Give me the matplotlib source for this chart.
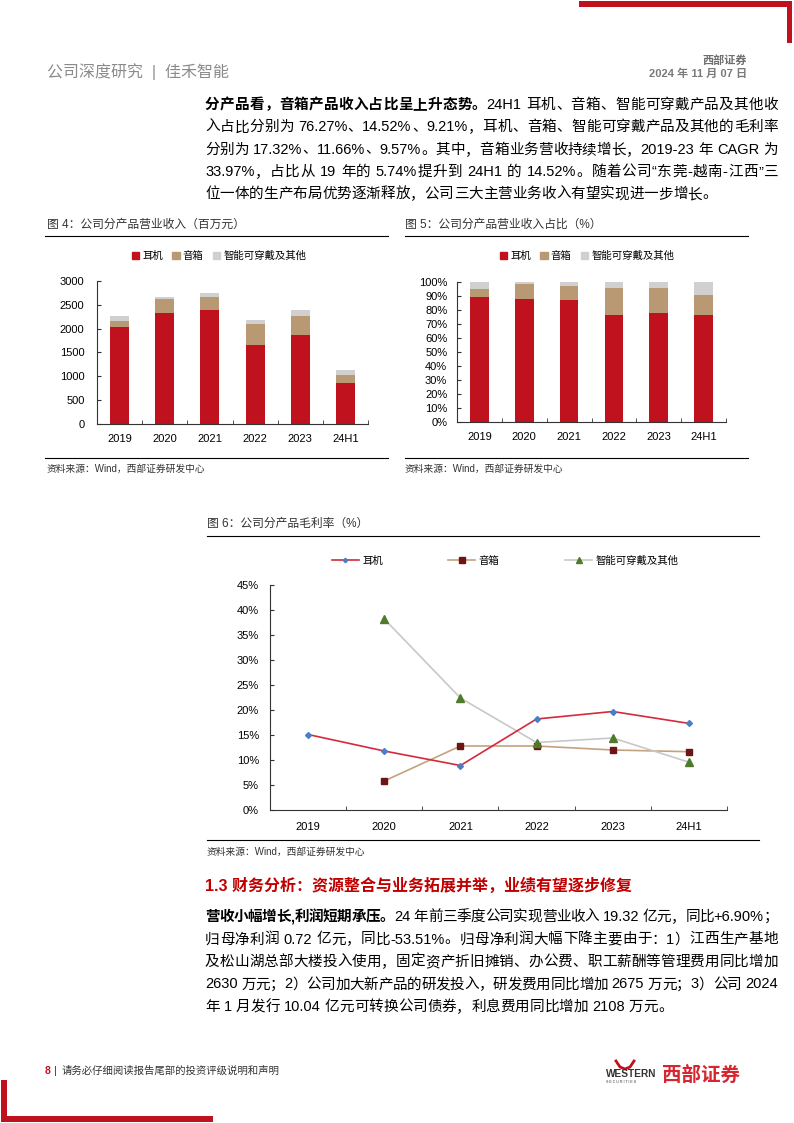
import re
import numpy as np
import matplotlib
matplotlib.use('Agg')
import matplotlib.pyplot as plt
from matplotlib.patches import Patch, Rectangle
from matplotlib.lines import Line2D

W, H = 794, 1123
FAM = ['Liberation Sans', 'Noto Sans CJK SC', 'DejaVu Sans']
plt.rcParams['font.family'] = FAM

RED = '#C0111F'
TAN = '#B99874'
GRAY = '#D0D0D0'

# data
years = ['2019', '2020', '2021', '2022', '2023', '24H1']
series = ['耳机', '音箱', '智能可穿戴及其他']

# 图4 营业收入（百万元）
rev_ear = [2032, 2332, 2394, 1663, 1858, 860]
rev_spk = [126, 292, 279, 425, 418, 165]
rev_oth = [118, 49, 83, 97, 118, 105]

# 图5 收入占比（%）
shr_ear = [89.5, 87.6, 86.9, 76.4, 77.8, 76.27]
shr_spk = [5.74, 10.7, 10.5, 19.3, 17.7, 14.52]
shr_oth = [4.76, 1.7, 2.6, 4.3, 4.5, 9.21]

# 图6 毛利率（%）
gm_ear = [15.1, 11.8, 8.9, 18.2, 19.7, 17.32]
gm_spk = [5.8, 12.8, 12.8, 12.0, 11.66]      # 2020 起
gm_oth = [38.2, 22.4, 13.5, 14.4, 9.57]      # 2020 起

para1 = [
    [('分产品看，音箱产品收入占比呈上升态势。', True), ('24H1 耳机、音箱、智能可穿戴产品及其他收', False)],
    [('入占比分别为 76.27%、14.52%、9.21%，耳机、音箱、智能可穿戴产品及其他的毛利率', False)],
    [('分别为 17.32%、11.66%、9.57%。其中，音箱业务营收持续增长，2019-23 年 CAGR 为', False)],
    [('33.97%，占比从 19 年的 5.74%提升到 24H1 的 14.52%。随着公司“东莞-越南-江西”三', False)],
    [('位一体的生产布局优势逐渐释放，公司三大主营业务收入有望实现进一步增长。', False)],
]
para2 = [
    [('营收小幅增长,利润短期承压。', True), ('24 年前三季度公司实现营业收入 19.32 亿元，同比+6.90%；', False)],
    [('归母净利润 0.72 亿元，同比-53.51%。归母净利润大幅下降主要由于：1）江西生产基地', False)],
    [('及松山湖总部大楼投入使用，固定资产折旧摊销、办公费、职工薪酬等管理费用同比增加', False)],
    [('2630 万元；2）公司加大新产品的研发投入，研发费用同比增加 2675 万元；3）公司 2024', False)],
    [('年 1 月发行 10.04 亿元可转换公司债券，利息费用同比增加 2108 万元。', False)],
]

fig = plt.figure(figsize=(W / 100, H / 100), dpi=100)
renderer = fig.canvas.get_renderer()


def fx(x):
    return x / W


def fy(y):
    return 1 - y / H


def rect(x0, y0, x1, y1):
    return [fx(x0), fy(y1), (x1 - x0) / W, (y1 - y0) / H]


def hline(x0, x1, y, color='black', lw=0.8):
    fig.add_artist(Line2D([fx(x0), fx(x1)], [fy(y), fy(y)], color=color, lw=lw))


def block(x0, y0, x1, y1, color=RED):
    fig.add_artist(Rectangle((fx(x0), fy(y1)), (x1 - x0) / W, (y1 - y0) / H,
                             color=color, lw=0))


def text(x, y, s, size, **kw):
    kw.setdefault('va', 'center')
    return fig.text(fx(x), fy(y), s, fontsize=size, **kw)


def draw_line(segs, x0, x1, y, size, justify=True):
    items = []
    for s, bold in segs:
        for tok in re.findall(r'[A-Za-z0-9.%+\-]+|.', s):
            t = fig.text(0, 0, tok, fontsize=size, va='center', ha='left',
                         fontweight='bold' if bold else 'normal', color='black')
            items.append((t, t.get_window_extent(renderer).width))
    total = sum(w for _, w in items)
    gap = (x1 - x0 - total) / (len(items) - 1) if justify else 0
    x = x0
    for t, w in items:
        t.set_position((fx(x), fy(y)))
        x += w + gap


# page decoration
block(579, 1, 792, 7)
block(787, 1, 792, 43)
block(1, 1080, 7, 1122)
block(1, 1116, 213, 1122)

text(47, 72, '公司深度研究  |  佳禾智能', 11.5, color='#8a8a8a')
text(747, 61, '西部证券', 8, color='#6e6e6e', ha='right', fontweight='bold')
text(747, 74, '2024 年 11 月 07 日', 8, color='#7a7a7a', ha='right', fontweight='bold')

# body text
for i, line in enumerate(para1):
    draw_line(line, 205, 778, 105 + i * 22.3, 10.5, justify=i < len(para1) - 1)

text(205, 886, '1.3 财务分析：资源整合与业务拓展并举，业绩有望逐步修复', 11.5,
     color='#C00000', fontweight='bold')
for i, line in enumerate(para2):
    draw_line(line, 205, 778, 917 + i * 22.5, 10.5, justify=i < len(para2) - 1)

# footer
text(45, 1071, '8', 7.5, color=RED, fontweight='bold')
text(54, 1071, '|', 8, color='#1F3A7A')
text(62, 1071, '请务必仔细阅读报告尾部的投资评级说明和声明', 7.5, color='#333333')
text(606, 1074, 'WESTERN', 7.3, color='#333333', fontweight='bold')
text(606, 1082, 'S E C U R I T I E S', 2.6, color='#333333')
fig.add_artist(Line2D([fx(v) for v in (616, 620, 625, 630, 634)],
                      [fy(v) for v in (1061, 1067, 1069, 1067, 1061)], color=RED, lw=2))
text(662, 1075, '西部证券', 14, color='#D7262F', fontweight='bold')


def frame(ax, ylab_pad):
    for s in ['top', 'right']:
        ax.spines[s].set_visible(False)
    for s in ['left', 'bottom']:
        ax.spines[s].set_color('#333333')
        ax.spines[s].set_linewidth(0.8)
    ax.set_xlim(-0.5, 5.5)
    ax.set_xticks(range(len(years)))
    ax.set_xticklabels(years)
    ax.set_xticks(np.arange(0.5, 5.6, 1), minor=True)
    ax.tick_params(axis='x', which='major', length=0, labelsize=8, pad=7)
    ax.tick_params(axis='x', which='minor', length=3, direction='in', color='#333333')
    ax.tick_params(axis='y', length=3, direction='in', labelsize=8, pad=ylab_pad,
                   color='#333333')


x = np.arange(len(years))
bw = 0.42

# 图4
hline(45, 388, 236)
hline(45, 388, 458)
text(47, 225, '图 4：公司分产品营业收入（百万元）', 8.5, color='#333333')
text(47, 469, '资料来源：Wind，西部证券研发中心', 7, color='#333333')
ax1 = fig.add_axes(rect(97, 281, 368, 424))
ax1.bar(x, rev_ear, bw, color=RED)
ax1.bar(x, rev_spk, bw, bottom=rev_ear, color=TAN)
ax1.bar(x, rev_oth, bw, bottom=np.add(rev_ear, rev_spk), color=GRAY)
ax1.set_ylim(0, 3000)
ax1.set_yticks(range(0, 3001, 500))
frame(ax1, 9)
ax1.legend(handles=[Patch(color=c) for c in (RED, TAN, GRAY)], labels=series,
           loc='center', bbox_to_anchor=(fx(219), fy(256)), bbox_transform=fig.transFigure,
           ncol=3, frameon=False, fontsize=7.5, handlelength=0.7, handleheight=0.7,
           handletextpad=0.3, columnspacing=0.9)

# 图5
hline(405, 748, 236)
hline(405, 748, 458)
text(405, 225, '图 5：公司分产品营业收入占比（%）', 8.5, color='#333333')
text(405, 469, '资料来源：Wind，西部证券研发中心', 7, color='#333333')
ax2 = fig.add_axes(rect(457, 282, 726, 422))
ax2.bar(x, shr_ear, bw, color=RED)
ax2.bar(x, shr_spk, bw, bottom=shr_ear, color=TAN)
ax2.bar(x, shr_oth, bw, bottom=np.add(shr_ear, shr_spk), color=GRAY)
ax2.set_ylim(0, 100)
ax2.set_yticks(range(0, 101, 10))
ax2.set_yticklabels([f'{v}%' for v in range(0, 101, 10)])
frame(ax2, 7)
ax2.legend(handles=[Patch(color=c) for c in (RED, TAN, GRAY)], labels=series,
           loc='center', bbox_to_anchor=(fx(587), fy(256)), bbox_transform=fig.transFigure,
           ncol=3, frameon=False, fontsize=7.5, handlelength=0.7, handleheight=0.7,
           handletextpad=0.3, columnspacing=0.9)

# 图6
hline(207, 759, 536)
hline(207, 759, 840)
text(207, 524, '图 6：公司分产品毛利率（%）', 8.5, color='#333333')
text(207, 852, '资料来源：Wind，西部证券研发中心', 7, color='#333333')
ax3 = fig.add_axes(rect(270, 585, 727, 810))
l1, = ax3.plot(x, gm_ear, color='#D42A3A', lw=1.2, marker='D', ms=3,
               mfc='#4A7EC7', mec='#4A7EC7', zorder=4)
l2, = ax3.plot(x[1:], gm_spk, color='#C4A27F', lw=1.2, marker='s', ms=5,
               mfc='#6E1414', mec='#6E1414', zorder=3)
l3, = ax3.plot(x[1:], gm_oth, color='#C8C8C8', lw=1.2, marker='^', ms=6,
               mfc='#4E7B2A', mec='#4E7B2A', zorder=3.5)
ax3.set_ylim(0, 45)
ax3.set_yticks(range(0, 46, 5))
ax3.set_yticklabels([f'{v}%' for v in range(0, 46, 5)])
frame(ax3, 8)
ax3.tick_params(axis='x', which='major', pad=9)
ax3.legend(handles=[l1, l2, l3], labels=series, loc='center',
           bbox_to_anchor=(fx(505), fy(561)), bbox_transform=fig.transFigure,
           ncol=3, frameon=False, fontsize=7.5, handlelength=2.6, markerscale=0.75,
           handletextpad=0.3, columnspacing=6.3)

fig.savefig('out.png', dpi=100)
